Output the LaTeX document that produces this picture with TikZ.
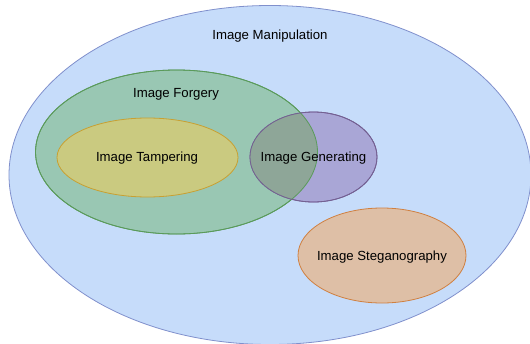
\documentclass[tikz,border=0pt]{standalone}
\usepackage{fontspec}
\setmainfont{Liberation Sans}
\usetikzlibrary{shapes.geometric}
\definecolor{bluefill}{HTML}{C6DCFA}
\definecolor{bluedraw}{HTML}{8090CC}
\definecolor{greenfill}{HTML}{99C7B3}
\definecolor{greendraw}{HTML}{5A9A5A}
\definecolor{yellowfill}{HTML}{CACA80}
\definecolor{yellowdraw}{HTML}{C8A032}
\definecolor{purplefill}{HTML}{A9A6D6}
\definecolor{purpledraw}{HTML}{77589A}
\definecolor{overlapfill}{HTML}{8EA698}
\definecolor{orangefill}{HTML}{DEBFA6}
\definecolor{orangedraw}{HTML}{D08040}
\tikzset{
  oval/.style={ellipse, inner sep=0pt, line width=0.8pt},
  lbl/.style={font=\fontsize{13.2}{15}\selectfont, text=black, inner sep=0pt}
}
\begin{document}
\begin{tikzpicture}[x=1pt,y=-1pt]
\useasboundingbox (0,0) rectangle (530,343);
\node[oval, fill=bluefill, draw=bluedraw, minimum width=522pt, minimum height=339pt] (manip) at (270,175) {};
\node[oval, fill=greenfill, draw=greendraw, minimum width=282pt, minimum height=164pt] (forg) at (176.5,152) {};
\node[oval, fill=yellowfill, draw=yellowdraw, minimum width=181pt, minimum height=79pt] (tamp) at (147.5,157.5) {};
\node[oval, fill=purplefill, draw=purpledraw, minimum width=127pt, minimum height=90pt] (gen) at (313.5,157) {};
\begin{scope}
  \clip (176.5,152) ellipse [x radius=141pt, y radius=82pt];
  \fill[overlapfill] (313.5,157) ellipse [x radius=63.5pt, y radius=45pt];
\end{scope}
\draw[greendraw, line width=0.8pt] (176.5,152) ellipse [x radius=141pt, y radius=82pt];
\draw[purpledraw!85!greendraw, line width=0.8pt] (313.5,157) ellipse [x radius=63.5pt, y radius=45pt];
\node[oval, fill=orangefill, draw=orangedraw, minimum width=168pt, minimum height=95pt] (steg) at (382,255.5) {};
\node[lbl] (tmanip) at (270,36) {Image Manipulation};
\node[lbl] (tforg) at (176,94.5) {Image Forgery};
\node[lbl] (ttamp) at (147,158.5) {Image Tampering};
\node[lbl] (tgen) at (313.5,158) {Image Generating};
\node[lbl] (tsteg) at (382,257) {Image Steganography};
\end{tikzpicture}
\end{document}
